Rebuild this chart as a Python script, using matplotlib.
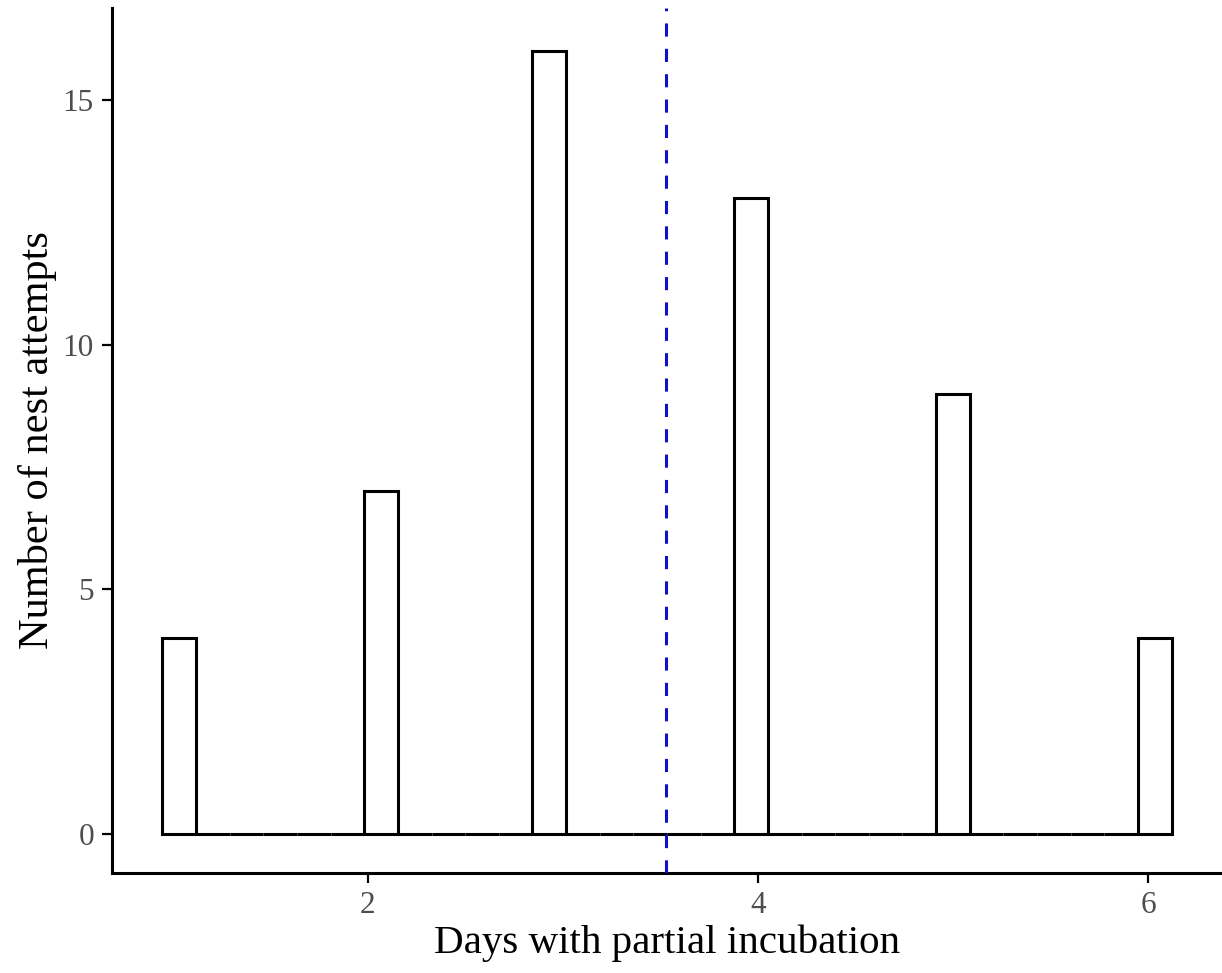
import numpy as np
import matplotlib
matplotlib.use("Agg")
import matplotlib.pyplot as plt

# Data
days = [1, 2, 3, 4, 5, 6]
counts = [4, 7, 16, 13, 9, 4]
x_ticks = [2, 4, 6]
y_ticks = [0, 5, 10, 15]
x_label = "Days with partial incubation"
y_label = "Number of nest attempts"

n_bins = 30
bin_shift = 0.033  # visual alignment of bin grid

values = np.repeat(days, counts)
vmin, vmax = values.min(), values.max()
w = (vmax - vmin) / (n_bins - 1)
edges = vmin - w / 2 + bin_shift + np.arange(n_bins + 1) * w
hist, _ = np.histogram(values, bins=edges)
centers = (edges[:-1] + edges[1:]) / 2
mean_val = values.mean()

plt.rcParams['font.family'] = ['Liberation Serif', 'DejaVu Serif']

fig = plt.figure(figsize=(12.22, 9.73), dpi=100)
ax = fig.add_axes([112 / 1222, 100 / 973, 1 - 112 / 1222, (873 - 8) / 973])

ax.bar(centers, hist, width=w, facecolor='white', edgecolor='black',
       linewidth=2.2, zorder=2)
ax.axvline(mean_val, color='#1010C8', linewidth=2.2,
           linestyle=(0, (4.3, 4.0)), zorder=3)

span = edges[-1] - edges[0]
ax.set_xlim(edges[0] - 0.05 * span, edges[-1] + 0.05 * span)
ax.set_ylim(-0.05 * max(hist), max(hist) * 1.055)

ax.set_xticks(x_ticks)
ax.set_yticks(y_ticks)
ax.tick_params(axis='both', labelsize=22.5, labelcolor='#4D4D4D', color='black',
               length=7, width=1.6, pad=6)

for s in ['top', 'right']:
    ax.spines[s].set_visible(False)
for s in ['left', 'bottom']:
    ax.spines[s].set_linewidth(2.2)

ax.set_xlabel(x_label, fontsize=29.5, labelpad=3)
ax.set_ylabel(y_label, fontsize=30.5, labelpad=4)

fig.savefig("out.png", dpi=100, facecolor='white')
